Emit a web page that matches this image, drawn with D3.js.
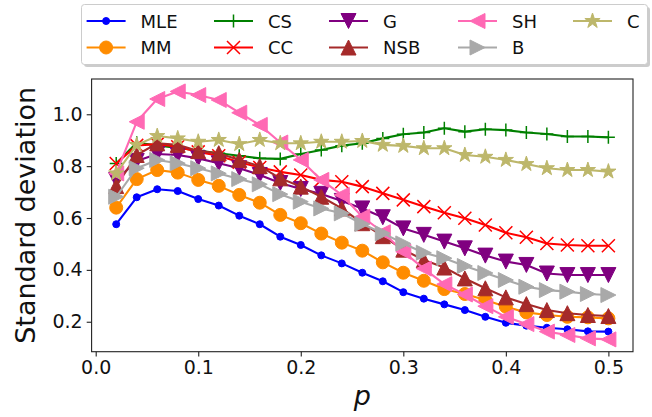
<!DOCTYPE html>
<html><head><meta charset="utf-8">
<script src="https://cdn.jsdelivr.net/npm/d3@7"></script>
<style>body{margin:0;background:#fff}svg{display:block}text{font-family:"DejaVu Sans",sans-serif}</style>
</head><body><svg id="c" width="652" height="417"></svg>
<script>
const pValues = [0.02,0.04,0.06,0.08,0.10,0.12,0.14,0.16,0.18,0.20,0.22,0.24,0.26,0.28,0.30,0.32,0.34,0.36,0.38,0.40,0.42,0.44,0.46,0.48,0.50];
const MLE = [0.576,0.68,0.711,0.704,0.673,0.648,0.609,0.576,0.528,0.496,0.456,0.425,0.389,0.356,0.314,0.289,0.267,0.245,0.219,0.196,0.185,0.177,0.171,0.163,0.162];
const MM  = [0.64,0.75,0.785,0.775,0.747,0.724,0.689,0.659,0.612,0.58,0.54,0.505,0.474,0.429,0.389,0.358,0.326,0.307,0.284,0.258,0.236,0.226,0.219,0.217,0.213];
const CS  = [0.81,0.89,0.88,0.87,0.86,0.85,0.84,0.83,0.828,0.847,0.862,0.879,0.888,0.907,0.923,0.93,0.946,0.933,0.942,0.939,0.93,0.924,0.914,0.914,0.911];
const CC  = [0.81,0.88,0.885,0.875,0.855,0.84,0.815,0.795,0.778,0.766,0.747,0.74,0.721,0.695,0.67,0.644,0.62,0.599,0.573,0.543,0.526,0.502,0.496,0.493,0.493];
const G   = [0.747,0.82,0.847,0.843,0.83,0.811,0.792,0.766,0.735,0.712,0.693,0.666,0.637,0.603,0.56,0.535,0.509,0.483,0.455,0.432,0.419,0.386,0.38,0.38,0.38];
const NSB = [0.723,0.843,0.888,0.882,0.858,0.85,0.824,0.8,0.753,0.721,0.682,0.637,0.58,0.53,0.478,0.438,0.409,0.367,0.329,0.294,0.268,0.245,0.233,0.226,0.222];
const SH  = [0.772,0.971,1.059,1.088,1.074,1.055,1.006,0.959,0.891,0.824,0.747,0.689,0.605,0.545,0.47,0.405,0.345,0.305,0.26,0.219,0.191,0.162,0.149,0.136,0.132];
const B   = [0.682,0.792,0.824,0.811,0.792,0.772,0.75,0.73,0.692,0.663,0.637,0.618,0.577,0.541,0.502,0.466,0.445,0.415,0.388,0.361,0.335,0.322,0.316,0.307,0.303];
const C   = [0.772,0.882,0.916,0.907,0.894,0.901,0.885,0.901,0.888,0.888,0.894,0.894,0.897,0.882,0.878,0.869,0.869,0.843,0.836,0.824,0.808,0.792,0.785,0.785,0.779];
const seriesNames = ["MLE","MM","CS","CC","G","NSB","SH","B","C"];
const xTicks = [0.0,0.1,0.2,0.3,0.4,0.5];
const yTicks = [0.2,0.4,0.6,0.8,1.0];

const seriesData = {MLE,MM,CS,CC,G,NSB,SH,B,C};
const styles = {
  MLE:{color:"#0000ff",m:"circle",s:7},
  MM:{color:"#ff8c00",m:"circle",s:13},
  CS:{color:"#008000",m:"plus",s:13},
  CC:{color:"#ff0000",m:"x",s:13},
  G:{color:"#800080",m:"tdown",s:15},
  NSB:{color:"#a52a2a",m:"tup",s:15},
  SH:{color:"#ff69b4",m:"tleft",s:15},
  B:{color:"#a9a9a9",m:"tright",s:15},
  C:{color:"#bdb76b",m:"star",s:16}
};
function markerPath(m,s){
  const h=s/2;
  switch(m){
    case "circle": return d3.symbol(d3.symbolCircle, Math.PI*h*h)();
    case "plus": return `M${-h},0H${h}M0,${-h}V${h}`;
    case "x": return `M${-h},${-h}L${h},${h}M${-h},${h}L${h},${-h}`;
    case "tdown": return `M0,${h}L${-h},${-h}L${h},${-h}Z`;
    case "tup": return `M0,${-h}L${-h},${h}L${h},${h}Z`;
    case "tleft": return `M${-h},0L${h},${-h}L${h},${h}Z`;
    case "tright": return `M${h},0L${-h},${-h}L${-h},${h}Z`;
    case "star": {
      const pts=[]; const ri=h*0.381966;
      for(let i=0;i<10;i++){const r=i%2?ri:h;const a=-Math.PI/2+i*Math.PI/5;pts.push([r*Math.cos(a),r*Math.sin(a)]);}
      return "M"+pts.map(p=>p[0].toFixed(2)+","+p[1].toFixed(2)).join("L")+"Z";
    }
  }
}
const svg=d3.select("#c");
const L=91.6,R=633,T=79,Bm=351.7;
const x=d3.scaleLinear().domain([-0.004,0.524]).range([L,R]);
const y=d3.scaleLinear().domain([0.0845,1.136]).range([Bm,T]);

const plot=svg.append("g");
plot.append("defs").append("clipPath").attr("id","clip").append("rect").attr("x",L).attr("y",T).attr("width",R-L).attr("height",Bm-T);
const line=d3.line().x((d,i)=>x(pValues[i])).y(d=>y(d));
seriesNames.forEach(n=>{
  const st=styles[n];
  const g=plot.append("g").attr("clip-path","url(#clip)");
  g.append("path").datum(seriesData[n]).attr("d",line).attr("fill","none").attr("stroke",st.color).attr("stroke-width",2.1).attr("stroke-linejoin","round");
  const open = st.m==="plus"||st.m==="x";
  g.selectAll("path.mk").data(seriesData[n]).join("path").attr("class","mk")
    .attr("transform",(d,i)=>`translate(${x(pValues[i])},${y(d)})`)
    .attr("d",markerPath(st.m,st.s))
    .attr("fill",open?"none":st.color).attr("stroke",st.color).attr("stroke-width",open?1.5:1).attr("stroke-linejoin","miter");
});

// axes
const xAxis=d3.axisBottom(x).tickValues(xTicks).tickFormat(d3.format(".1f")).tickSize(4.9).tickPadding(4);
const yAxis=d3.axisLeft(y).tickValues(yTicks).tickFormat(d3.format(".1f")).tickSize(4.9).tickPadding(4);
const gx=svg.append("g").attr("transform",`translate(0,${Bm})`).call(xAxis);
const gy=svg.append("g").attr("transform",`translate(${L},0)`).call(yAxis);
[gx,gy].forEach(g=>{g.select(".domain").remove();g.selectAll("line").attr("stroke","#222").attr("stroke-width",1.1);g.selectAll("text").attr("font-size",19).attr("fill","#111").attr("font-family","DejaVu Sans");});
svg.append("rect").attr("x",L).attr("y",T).attr("width",R-L).attr("height",Bm-T).attr("fill","none").attr("stroke","#222").attr("stroke-width",1.1);

svg.append("text").attr("x",(L+R)/2).attr("y",405).attr("text-anchor","middle").attr("font-size",27).attr("font-style","italic").attr("fill","#111").text("p");
svg.append("text").attr("transform",`translate(35,${(T+Bm)/2}) rotate(-90)`).attr("text-anchor","middle").attr("font-size",27).attr("fill","#111").text("Standard deviation");

// legend
const lg=svg.append("g");
lg.append("rect").attr("x",84).attr("y",7).attr("width",566).attr("height",60).attr("rx",3).attr("fill","#999").attr("opacity",0.5);
lg.append("rect").attr("x",81.5).attr("y",4.5).attr("width",566).attr("height",60).attr("rx",3).attr("fill","#fff").attr("stroke","#ccc").attr("stroke-width",1);
const colX=[86.6,214,329,458,573];
const rowY=[21,47.5];
seriesNames.forEach((n,i)=>{
  const st=styles[n];
  const c=Math.floor(i/2), r=i%2;
  const x0=colX[c], yy=rowY[r];
  lg.append("line").attr("x1",x0).attr("x2",x0+39).attr("y1",yy).attr("y2",yy).attr("stroke",st.color).attr("stroke-width",2.1);
  const open = st.m==="plus"||st.m==="x";
  lg.append("path").attr("transform",`translate(${x0+19.5},${yy})`).attr("d",markerPath(st.m,st.s)).attr("fill",open?"none":st.color).attr("stroke",st.color).attr("stroke-width",open?1.5:1);
  lg.append("text").attr("x",x0+54).attr("y",yy+6.5).attr("font-size",18).attr("fill","#111").text(n);
});
</script></body></html>
